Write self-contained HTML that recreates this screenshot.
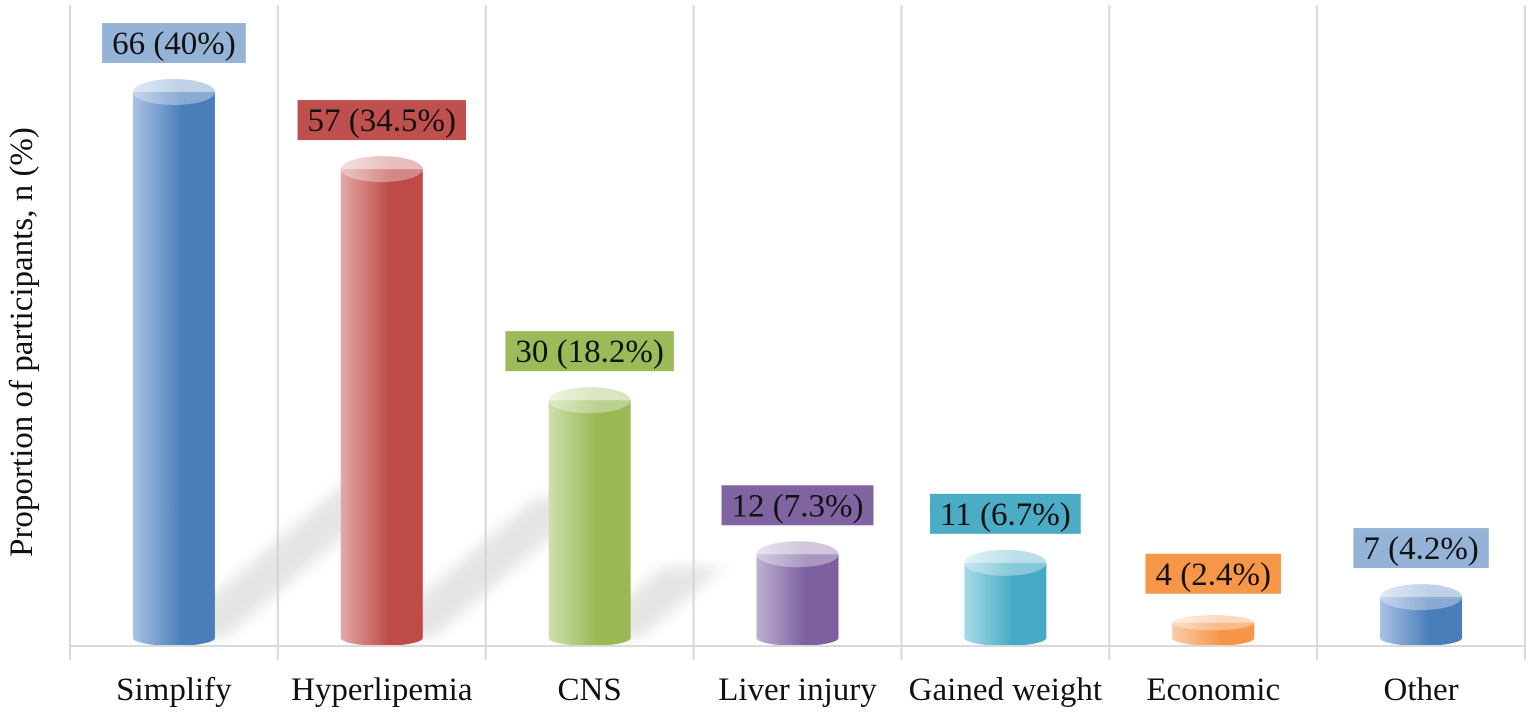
<!DOCTYPE html>
<html><head><meta charset="utf-8"><style>
html,body{margin:0;padding:0;background:#fff;}
svg{display:block;font-family:"Liberation Serif",serif;}
</style></head><body>
<svg id="chart" width="1535" height="713">
<defs>
<filter id="blur"><feGaussianBlur stdDeviation="7"/></filter>
</defs>
<g id="grid"></g>
<g id="shadows"></g>
<g id="bars"></g>
<g id="labels"></g>
<g id="xaxis"></g>
<text transform="translate(32,342) rotate(-90)" text-anchor="middle" font-size="33" fill="#111">Proportion of participants, n (%)</text>
</svg>
<script>
const categories=["Simplify","Hyperlipemia","CNS","Liver injury","Gained weight","Economic","Other"];
const counts=[66,57,30,12,11,4,7];
const percents=["40%","34.5%","18.2%","7.3%","6.7%","2.4%","4.2%"];
const colorsDark=["#4a7ebb","#be4b48","#98b954","#7d60a0","#46aac5","#f69546","#4a7ebb"];
const colorsLight=["#a9c2e3","#e3a9a8","#cfdfae","#beb0d2","#a8dbe7","#fbcda6","#a9c2e3"];
const labelBg=["#95b3d7","#c0504d","#9bbb59","#8064a2","#4bacc6","#f79646","#95b3d7"];
const NS="http://www.w3.org/2000/svg";
const svg=document.getElementById('chart');
const x0=70,x1=1525,n=categories.length,cw=(x1-x0)/n;
const base=638;
function xc(i){return x0+cw*(i+0.5);}
function yv(v){return 657-8.56*v;}
function mk(tag,attrs,parent){const e=document.createElementNS(NS,tag);for(const k in attrs)e.setAttribute(k,attrs[k]);parent.appendChild(e);return e;}
const defs=svg.querySelector('defs');
const grid=document.getElementById('grid');
for(let i=0;i<=n;i++){
 const gl=mk('line',{x1:x0+cw*i,x2:x0+cw*i,y1:5,y2:660,stroke:'#d9d9d9','stroke-width':2},grid);
 
 
}
const xa=document.getElementById('xaxis');
const al=mk('line',{x1:x0,x2:x1,y1:646,y2:646,stroke:'#d9d9d9','stroke-width':2},xa);


const sh=document.getElementById('shadows');
const bars=document.getElementById('bars');
const labs=document.getElementById('labels');
const hw=41;
categories.forEach((c,i)=>{
 const cx=xc(i),top=yv(counts[i]);
 const g=mk('linearGradient',{id:'g'+i,x1:0,x2:1,y1:0,y2:0},defs);
 mk('stop',{offset:0,'stop-color':colorsLight[i]},g);
 mk('stop',{offset:0.6,'stop-color':colorsDark[i]},g);
 mk('stop',{offset:1,'stop-color':colorsDark[i]},g);
 const h=base-top;
 if(h>120){
  const s=mk('polygon',{points:`${cx-10},${base} ${cx+hw+10},${base} ${cx+hw+10+h*0.35},${base-h*0.3} ${cx+h*0.35-10},${base-h*0.3}`,fill:'#cfcfcf',opacity:0.55,filter:'url(#blur)'},sh);
  
  
 }
 const bg=mk('g',{},bars);
 
 
 mk('path',{d:`M${cx-hw},${top} L${cx-hw},${base} A${hw},8 0 0 0 ${cx+hw},${base} L${cx+hw},${top} Z`,fill:`url(#g${i})`},bg);
 const ry=Math.min(13,Math.max(2,(base-top)*0.5));
 mk('ellipse',{cx:cx,cy:top,rx:hw,ry:ry,fill:`url(#g${i})`,opacity:0.55},bg);
 mk('ellipse',{cx:cx,cy:top,rx:hw,ry:ry,fill:'#ffffff',opacity:0.35},bg);
 const txt=counts[i]+" ("+percents[i]+")";
 const lg=mk('g',{},labs);
 
 
 const by=top-29-40;
 const r=mk('rect',{x:cx,y:by,width:10,height:40,fill:labelBg[i]},lg);
 const t=mk('text',{x:cx,y:by+31,'text-anchor':'middle','font-size':33,fill:'#111'},lg);
 t.textContent=txt;
 const w=t.getComputedTextLength()+20;
 r.setAttribute('x',cx-w/2);r.setAttribute('width',w);
 const xl=mk('text',{x:cx,y:700,'text-anchor':'middle','font-size':33,fill:'#111'},xa);
 xl.textContent=c;
 
 
});
</script>
</body></html>
